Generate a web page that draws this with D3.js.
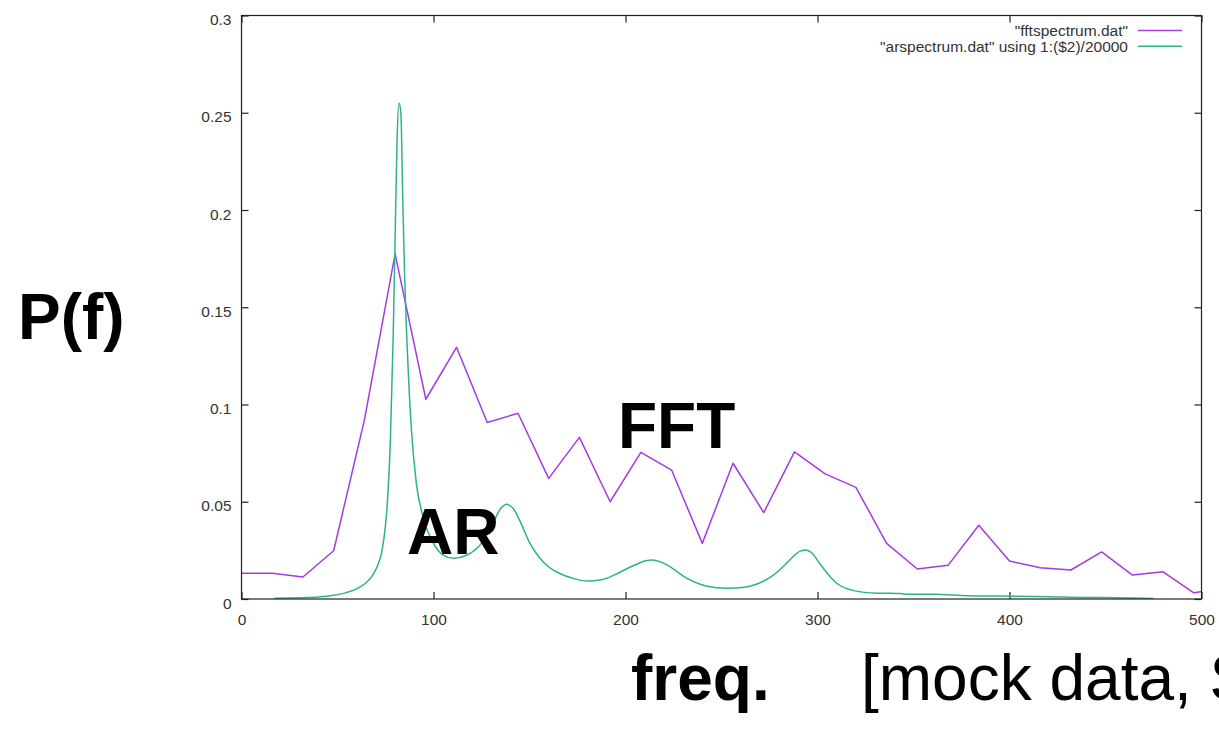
<!DOCTYPE html>
<html>
<head>
<meta charset="utf-8">
<script src="https://cdn.jsdelivr.net/npm/d3@7"></script>
<style>
  html, body { margin: 0; padding: 0; background: #fff; overflow: hidden; }
  text { font-family: "Liberation Sans", Arial, Helvetica, sans-serif; }
</style>
</head>
<body>
<div id="chart"></div>
<script>
// FFT spectrum, sampled every 16 Hz
var fftFreq = [0, 16, 32, 48, 64, 80, 96, 112, 128, 144, 160, 176, 192, 208, 224, 240,
  256, 272, 288, 304, 320, 336, 352, 368, 384, 400, 416, 432, 448, 464, 480, 496, 512];
var fftPower = [0.0132, 0.0133, 0.0113, 0.0248, 0.092, 0.1774, 0.1027, 0.1294, 0.0907, 0.0955,
  0.0620, 0.0831, 0.0500, 0.0754, 0.0663, 0.0286, 0.0698, 0.0444, 0.0756, 0.0643, 0.0574,
  0.0286, 0.0154, 0.0173, 0.0379, 0.0195, 0.0161, 0.0149, 0.0242, 0.0123, 0.0140, 0.0032, 0.0056];

// AR spectrum (already divided by 20000)
var arFreq = [17, 30, 40, 48, 55, 60, 65, 68, 71, 73, 75, 76, 77.5, 79, 80, 81, 82, 83, 84, 85,
  86.5, 88.5, 91, 94.5, 100, 105, 110.5, 117.5, 126, 131, 135, 138, 141.5, 146, 150, 155, 160,
  166, 172, 180, 188, 194, 204, 210, 214, 218, 222, 232, 242, 253, 262, 267, 277, 283, 287, 291,
  294, 297, 301, 304, 310, 319, 331, 343, 347, 361, 378, 395, 421, 438, 456, 475];
var arPower = [0.0004, 0.0006, 0.0010, 0.0019, 0.0034, 0.0052, 0.0085, 0.0118, 0.0175, 0.0240,
  0.0380, 0.0500, 0.0800, 0.1350, 0.1850, 0.2350, 0.2550, 0.2500, 0.2050, 0.1650,
  0.1250, 0.0870, 0.0600, 0.0425, 0.0286, 0.0226, 0.0209, 0.0226, 0.0300, 0.0390, 0.0465, 0.0487,
  0.0465, 0.0380, 0.0290, 0.0215, 0.0165, 0.0130, 0.0108, 0.0092, 0.0100, 0.0123, 0.0171, 0.0195,
  0.0201, 0.0192, 0.0173, 0.0106, 0.0067, 0.0055, 0.0060, 0.0072, 0.0123, 0.0175, 0.0215, 0.0246,
  0.0252, 0.0238, 0.0185, 0.0145, 0.0081, 0.0043, 0.0030, 0.0028, 0.0024, 0.0024, 0.0017, 0.0015,
  0.0012, 0.0008, 0.0007, 0.0002];

var xTicks = [0, 100, 200, 300, 400, 500];
var yTicks = [0, 0.05, 0.1, 0.15, 0.2, 0.25, 0.3];
var legendLabels = ['"fftspectrum.dat"', '"arspectrum.dat" using 1:($2)/20000'];

var W = 1219, H = 733;
var margin = {top: 15.5, right: 17.5, bottom: 134, left: 241.5},
    width = W - margin.left - margin.right,
    height = H - margin.top - margin.bottom;

var purple = "#a43be0", green = "#2db38b";

var svg = d3.select("#chart")
  .append("svg")
    .attr("width", W)
    .attr("height", H);

var g = svg.append("g")
    .attr("transform", "translate(" + margin.left + "," + margin.top + ")");

var x = d3.scaleLinear().domain([0, 500]).range([0, width]);
var y = d3.scaleLinear().domain([0, 0.3]).range([height, 0]);

svg.append("defs").append("clipPath").attr("id", "plotclip")
  .append("rect").attr("width", width).attr("height", height);

// axes: inward ticks, gnuplot style
function styleAxis(sel) {
  sel.select(".domain").remove();
  sel.selectAll("line").attr("stroke", "#222").attr("stroke-width", 1.2);
  sel.selectAll("text").attr("fill", "#333").style("font-size", "15.5px");
}

g.append("g")
  .call(d3.axisLeft(y).tickValues(yTicks).tickSizeInner(-7).tickSizeOuter(0).tickPadding(10)
    .tickFormat(d3.format("")))
  .call(styleAxis)
  .selectAll("text").attr("dy", "0.58em");

g.append("g")
  .attr("transform", "translate(0," + height + ")")
  .call(d3.axisBottom(x).tickValues(xTicks).tickSizeInner(-7).tickSizeOuter(0).tickPadding(15))
  .call(styleAxis);

g.append("g")
  .call(d3.axisTop(x).tickValues(xTicks).tickSizeInner(-7).tickSizeOuter(0).tickFormat(""))
  .call(styleAxis);

g.append("g")
  .attr("transform", "translate(" + width + ",0)")
  .call(d3.axisRight(y).tickValues(yTicks).tickSizeInner(-7).tickSizeOuter(0).tickFormat(""))
  .call(styleAxis);

// lines
var plot = g.append("g").attr("clip-path", "url(#plotclip)");

plot.append("path")
  .datum(d3.zip(fftFreq, fftPower))
  .attr("fill", "none")
  .attr("stroke", purple)
  .attr("stroke-width", 1.5)
  .attr("stroke-linejoin", "round")
  .attr("d", d3.line()
    .x(d => x(d[0]))
    .y(d => y(d[1]))
  );

plot.append("path")
  .datum(d3.zip(arFreq, arPower))
  .attr("fill", "none")
  .attr("stroke", green)
  .attr("stroke-width", 1.5)
  .attr("stroke-linejoin", "round")
  .attr("d", d3.line()
    .x(d => x(d[0]))
    .y(d => y(d[1]))
    .curve(d3.curveMonotoneX)
  );

// frame
g.append("rect")
  .attr("width", width)
  .attr("height", height)
  .attr("fill", "none")
  .attr("stroke", "#222")
  .attr("stroke-width", 1.2);

// legend
var legend = g.selectAll(".legend")
  .data(legendLabels)
  .enter().append("g")
    .attr("transform", (d, i) => "translate(0," + (15 + i * 15.7) + ")");

legend.append("text")
  .attr("x", 1128 - margin.left)
  .attr("dy", "0.35em")
  .attr("text-anchor", "end")
  .attr("fill", "#333")
  .style("font-size", "15.5px")
  .text(d => d);

legend.append("line")
  .attr("x1", 1138 - margin.left)
  .attr("x2", 1182 - margin.left)
  .attr("stroke", (d, i) => i === 0 ? purple : green)
  .attr("stroke-width", 1.5);

// big slide annotations
var big = [
  {t: "P(f)", x: 18, y: 339, w: "bold"},
  {t: "FFT", x: 618, y: 448, w: "bold"},
  {t: "AR", x: 407, y: 554, w: "bold"},
  {t: "freq.", x: 631, y: 700, w: "bold"},
  {t: "[mock data, S", x: 861, y: 700, w: "normal"}
];
svg.selectAll(".big")
  .data(big)
  .enter().append("text")
    .attr("x", d => d.x)
    .attr("y", d => d.y)
    .attr("fill", "#000")
    .style("font-size", "64px")
    .style("font-weight", d => d.w)
    .text(d => d.t);
</script>
</body>
</html>
